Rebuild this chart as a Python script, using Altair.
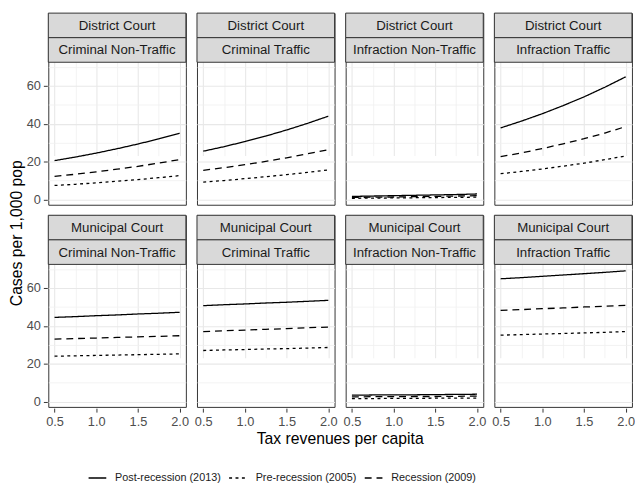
import altair as alt
import pandas as pd

FONT = "Liberation Sans"

x_vals = [0.5, 0.75, 1.0, 1.25, 1.5, 1.75, 2.0]
courts = ["District Court", "Municipal Court"]
case_types = ["Criminal Non-Traffic", "Criminal Traffic",
              "Infraction Non-Traffic", "Infraction Traffic"]
periods = ["Post-recession (2013)", "Pre-recession (2005)", "Recession (2009)"]

# District Court
dist_crim_nontraffic_post = [20.5, 22.4, 24.5, 26.8, 29.3, 32.0, 35.0]
dist_crim_nontraffic_pre = [7.4, 8.0, 8.8, 9.6, 10.5, 11.5, 12.6]
dist_crim_nontraffic_rec = [12.2, 13.3, 14.6, 16.0, 17.5, 19.2, 21.1]
dist_crim_traffic_post = [25.5, 27.9, 30.6, 33.5, 36.7, 40.2, 44.0]
dist_crim_traffic_pre = [9.2, 10.0, 11.0, 12.0, 13.1, 14.3, 15.6]
dist_crim_traffic_rec = [15.4, 16.8, 18.4, 20.1, 22.0, 24.1, 26.3]
dist_inf_nontraffic_post = [1.6, 1.8, 2.0, 2.2, 2.4, 2.6, 2.9]
dist_inf_nontraffic_pre = [0.6, 0.7, 0.8, 0.9, 1.0, 1.1, 1.2]
dist_inf_nontraffic_rec = [1.1, 1.2, 1.3, 1.5, 1.6, 1.8, 2.0]
dist_inf_traffic_post = [37.8, 41.4, 45.3, 49.6, 54.2, 59.3, 64.8]
dist_inf_traffic_pre = [13.6, 14.8, 16.1, 17.6, 19.2, 21.0, 23.0]
dist_inf_traffic_rec = [22.6, 24.6, 26.9, 29.4, 32.1, 35.1, 38.5]

# Municipal Court
muni_crim_nontraffic_post = [44.5, 44.9, 45.4, 45.8, 46.3, 46.7, 47.2]
muni_crim_nontraffic_pre = [24.0, 24.2, 24.4, 24.6, 24.8, 25.0, 25.2]
muni_crim_nontraffic_rec = [33.0, 33.3, 33.6, 33.9, 34.2, 34.5, 34.8]
muni_crim_traffic_post = [50.7, 51.2, 51.6, 52.1, 52.5, 53.0, 53.5]
muni_crim_traffic_pre = [27.0, 27.3, 27.5, 27.8, 28.0, 28.3, 28.6]
muni_crim_traffic_rec = [37.0, 37.4, 37.8, 38.2, 38.6, 39.0, 39.4]
muni_inf_nontraffic_post = [3.4, 3.5, 3.6, 3.6, 3.7, 3.8, 3.9]
muni_inf_nontraffic_pre = [1.6, 1.6, 1.7, 1.7, 1.8, 1.8, 1.9]
muni_inf_nontraffic_rec = [2.5, 2.6, 2.6, 2.7, 2.7, 2.8, 2.9]
muni_inf_traffic_post = [64.9, 65.5, 66.2, 66.9, 67.6, 68.3, 69.1]
muni_inf_traffic_pre = [35.1, 35.4, 35.7, 36.0, 36.3, 36.6, 37.0]
muni_inf_traffic_rec = [48.2, 48.6, 49.1, 49.5, 50.0, 50.4, 50.9]

series = {
    ("District Court", "Criminal Non-Traffic"): [dist_crim_nontraffic_post, dist_crim_nontraffic_pre, dist_crim_nontraffic_rec],
    ("District Court", "Criminal Traffic"): [dist_crim_traffic_post, dist_crim_traffic_pre, dist_crim_traffic_rec],
    ("District Court", "Infraction Non-Traffic"): [dist_inf_nontraffic_post, dist_inf_nontraffic_pre, dist_inf_nontraffic_rec],
    ("District Court", "Infraction Traffic"): [dist_inf_traffic_post, dist_inf_traffic_pre, dist_inf_traffic_rec],
    ("Municipal Court", "Criminal Non-Traffic"): [muni_crim_nontraffic_post, muni_crim_nontraffic_pre, muni_crim_nontraffic_rec],
    ("Municipal Court", "Criminal Traffic"): [muni_crim_traffic_post, muni_crim_traffic_pre, muni_crim_traffic_rec],
    ("Municipal Court", "Infraction Non-Traffic"): [muni_inf_nontraffic_post, muni_inf_nontraffic_pre, muni_inf_nontraffic_rec],
    ("Municipal Court", "Infraction Traffic"): [muni_inf_traffic_post, muni_inf_traffic_pre, muni_inf_traffic_rec],
}

rows = []
for (court, ctype), vals in series.items():
    for period, ys in zip(periods, vals):
        for x, y in zip(x_vals, ys):
            rows.append({"court": court, "type": ctype, "period": period, "x": x, "y": y})
df = pd.DataFrame(rows)

x_grid_values = [0.5, 0.75, 1.0, 1.25, 1.5, 1.75, 2.0]
y_grid_values = [0, 10, 20, 30, 40, 50, 60, 70]

W, H, STRIP = 140, 195, 25

x_major = "abs(datum.value*2 - round(datum.value*2)) < 0.001"
y_major = "datum.value % 20 == 0"


def axis_for(test, label_expr, **kw):
    return alt.Axis(
        title=None,
        domain=False,
        labelExpr=label_expr,
        labelFont=FONT,
        labelFontSize=13,
        labelColor="#4D4D4D",
        labelFlush=False,
        labelOverlap=False,
        tickSize=4,
        tickColor="#333333",
        tickWidth=1,
        tickOpacity={"condition": {"test": test, "value": 1}, "value": 0},
        gridColor={"condition": {"test": test, "value": "#E8E8E8"}, "value": "#F0F0F0"},
        gridWidth={"condition": {"test": test, "value": 1.1}, "value": 0.8},
        **kw,
    )


x_axis = axis_for(x_major, f"{x_major} ? format(datum.value, '.1f') : ''",
                  values=x_grid_values, labelPadding=4)
y_axis = axis_for(y_major, f"{y_major} ? datum.label : ''", values=y_grid_values,
                  labelPadding=3, minExtent=22, maxExtent=22)

lines = alt.Chart().mark_line(color="black", strokeWidth=1.3).encode(
    x=alt.X("x:Q", scale=alt.Scale(domain=[0.425, 2.075], nice=False, zero=False), axis=x_axis),
    y=alt.Y("y:Q", scale=alt.Scale(domain=[-2.8, 72.5], range=[H, 2 * STRIP], nice=False, zero=False),
            axis=y_axis),
    strokeDash=alt.StrokeDash(
        "period:N",
        scale=alt.Scale(domain=periods, range=[[1, 0], [3, 3.5], [7, 5]]),
        legend=alt.Legend(
            title=None,
            orient="none",
            direction="horizontal",
            legendX=77,
            legendY=463,
            symbolType="stroke",
            symbolSize=324,
            symbolStrokeWidth=1.4,
            symbolStrokeColor="black",
            labelFont=FONT,
            labelFontSize=11,
            labelColor="#1A1A1A",
            labelOffset=8,
            columnPadding=5,
            padding=0,
        ),
    ),
)

strip_base = alt.Chart().transform_aggregate(n="count()", groupby=["court", "type"])
strip1 = strip_base.mark_rect(fill="#D9D9D9", stroke="#333333", strokeWidth=1).encode(
    x=alt.value(0), x2=alt.value(W), y=alt.value(0), y2=alt.value(STRIP))
strip2 = strip_base.mark_rect(fill="#D9D9D9", stroke="#333333", strokeWidth=1).encode(
    x=alt.value(0), x2=alt.value(W), y=alt.value(STRIP), y2=alt.value(2 * STRIP))
text1 = strip_base.mark_text(font=FONT, fontSize=13.5, color="#1A1A1A", baseline="middle", align="center").encode(
    text="court:N", x=alt.value(W / 2), y=alt.value(STRIP / 2 + 0.5))
text2 = strip_base.mark_text(font=FONT, fontSize=13.5, color="#1A1A1A", baseline="middle", align="center").encode(
    text="type:N", x=alt.value(W / 2), y=alt.value(STRIP * 1.5 + 0.5))

panel = alt.layer(lines, strip1, strip2, text1, text2, data=df).properties(width=W, height=H)

facet = panel.facet(
    row=alt.Row("court:N", sort=courts, header=alt.Header(labels=False, title=None)),
    column=alt.Column("type:N", sort=case_types, header=alt.Header(
        labels=False, title="Tax revenues per capita", titleOrient="bottom",
        titleFont=FONT, titleFontSize=16, titleFontWeight="normal", titleColor="black",
        titlePadding=-8)),
    spacing={"row": 8.7, "column": 9.3},
)

ytitle = alt.Chart(pd.DataFrame({"t": ["Cases per 1,000 pop"]})).mark_text(
    angle=270, font=FONT, fontSize=16, color="black", baseline="middle", align="center"
).encode(
    text="t:N", x=alt.value(5), y=alt.value(224)
).properties(width=11, height=2 * H + 8.7, view=alt.ViewConfig(stroke="transparent"))

chart = alt.hconcat(ytitle, facet, spacing=0).properties(padding=0).configure_view(
    stroke="#333333", strokeWidth=1
)

chart.save("out.html", embed_options={"renderer": "svg", "actions": False})
